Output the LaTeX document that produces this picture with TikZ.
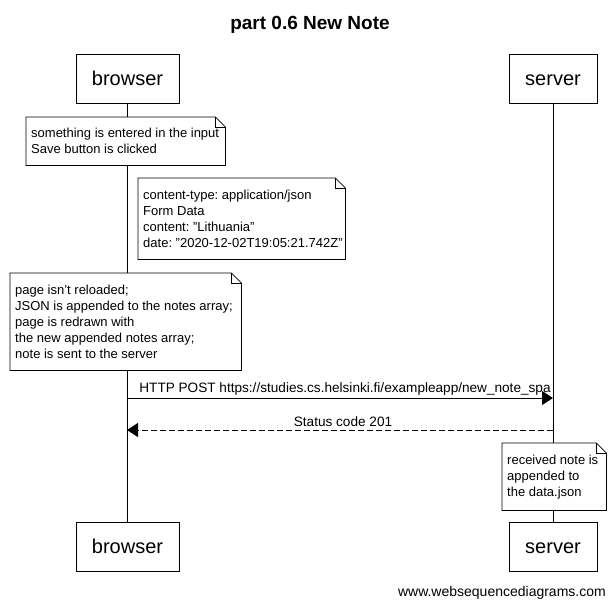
\documentclass[tikz,border=0pt]{standalone}
\usepackage{fontspec}
\setmainfont{Liberation Sans}[Ligatures=ResetAll]
\usetikzlibrary{arrows.meta}
\frenchspacing
\newcommand\dq{\symbol{34}}
\newcommand\sq{\symbol{39}}
\begin{document}
\begin{tikzpicture}[x=1pt,y=-1pt,
  actor/.style={draw, line width=1pt, fill=white, inner sep=0pt, text height=14.4pt, text depth=0pt, font=\fontsize{20}{24}\selectfont},
  notebox/.style={fill=white, inner sep=0pt, anchor=north west},
  notetext/.style={anchor=west, inner sep=0pt, align=left, font=\fontsize{13}{16}\selectfont},
  noteline/.style={line width=0.8pt},
  lifeline/.style={line width=0.8pt},
  msg/.style={line width=1pt, -{Triangle[length=11pt,width=14pt]}},
  reply/.style={msg, dash pattern=on 6pt off 3pt},
  lbl/.style={anchor=base, font=\fontsize{13.6}{16}\selectfont, inner sep=0pt}]
\useasboundingbox (0,0) rectangle (615,605);
\node[anchor=base, font=\bfseries\fontsize{19}{23}\selectfont] (title) at (310,29) {part 0.6 New Note};
% actors
\node[actor, minimum width=103pt, minimum height=49pt] (btop) at (127.5,78.5) {browser};
\node[actor, minimum width=88pt, minimum height=49pt] (stop) at (553,78.5) {server};
\node[actor, minimum width=103pt, minimum height=49pt] (bbot) at (127.5,546.5) {browser};
\node[actor, minimum width=88pt, minimum height=49pt] (sbot) at (553,546.5) {server};
% lifelines
\draw[lifeline] (btop.south) -- (bbot.north);
\draw[lifeline] (stop.south) -- (sbot.north);
% notes
\newcommand\noteoutline[1]{%
  \draw[noteline] (#1.north west) -- ([xshift=-10pt]#1.north east) -- ([yshift=-10pt]#1.north east) -- (#1.south east) -- (#1.south west) -- cycle;
  \draw[noteline] ([xshift=-10pt]#1.north east) |- ([yshift=-10pt]#1.north east);}
\node[notebox, minimum width=199pt, minimum height=48pt] (n1) at (26,117) {};
\noteoutline{n1}
\node[notetext] (t1) at ([xshift=5pt]n1.west)
  {something is entered in the input\\Save button is clicked};
\node[notebox, minimum width=207pt, minimum height=81pt] (n2) at (138,178) {};
\noteoutline{n2}
\node[notetext] (t2) at ([xshift=5pt]n2.west)
  {content-type: application/json\\Form Data\\content: \dq Lithuania\dq\\date: \dq 2020-12-02T19:05:21.742Z\dq};
\node[notebox, minimum width=231pt, minimum height=97pt] (n3) at (10,273) {};
\noteoutline{n3}
\node[notetext] (t3) at ([xshift=5pt]n3.west)
  {page isn\sq t reloaded;\\JSON is appended to the notes array;\\page is redrawn with\\the new appended notes array;\\note is sent to the server};
\node[notebox, minimum width=104pt, minimum height=67pt] (n4) at (502,443) {};
\noteoutline{n4}
\node[notetext] (t4) at ([xshift=5pt]n4.west)
  {received note is\\appended to\\the data.json};
% messages
\coordinate (b1) at (127,398);
\coordinate (s1) at (553,398);
\coordinate (b2) at (127,430);
\coordinate (s2) at (553,430);
\draw[msg] (b1) -- (s1);
\node[lbl] (l1) at (345,392) {HTTP POST https://studies.cs.helsinki.fi/exampleapp/new\_note\_spa};
\draw[reply] (s2) -- (b2);
\node[lbl] (l2) at (343,426) {Status code 201};
% watermark
\node[anchor=base east, inner sep=0pt, font=\fontsize{14}{17}\selectfont] (wm) at (606,596) {www.websequencediagrams.com};
\end{tikzpicture}
\end{document}
